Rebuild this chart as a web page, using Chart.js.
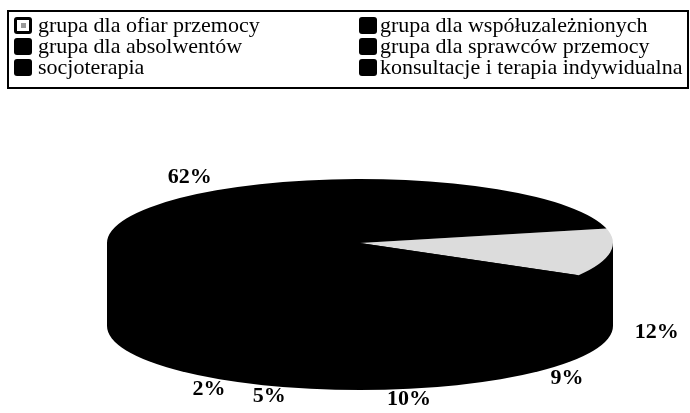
<!DOCTYPE html>
<html>
<head>
<meta charset="utf-8">
<script src="https://cdn.jsdelivr.net/npm/chart.js@4/dist/chart.umd.min.js"></script>
<style>
  html, body { margin: 0; padding: 0; background: #fff; }
  #wrap { width: 690px; height: 413px; }
</style>
</head>
<body>
<div id="wrap"><canvas id="myChart" width="690" height="413"></canvas></div>
<script>
const categories = [
  "grupa dla ofiar przemocy",
  "grupa dla współuzależnionych",
  "grupa dla absolwentów",
  "grupa dla sprawców przemocy",
  "socjoterapia",
  "konsultacje i terapia indywidualna",
];
const shares = [12, 9, 10, 5, 2, 62];
const sliceColors = ["#dcdcdc", "#000", "#000", "#000", "#000", "#000"];

// flattened "3D" look of the pie
const pie = { cx: 360, cy: 243, a: 253, b: 64, depth: 83 };
const labelRing = { rx: 300, ry: 80, drop: 77 };

const flatPie = {
  id: "flatPie",
  beforeDatasetsDraw(chart) {
    const ctx = chart.ctx;
    const arc = chart.getDatasetMeta(0).data[0];
    ctx.save();
    // side wall
    ctx.fillStyle = "#000";
    ctx.beginPath();
    ctx.ellipse(pie.cx, pie.cy + pie.depth, pie.a, pie.b, 0, 0, Math.PI * 2);
    ctx.fill();
    ctx.fillRect(pie.cx - pie.a, pie.cy, pie.a * 2, pie.depth);
    // squash the real pie into the top face
    ctx.translate(pie.cx, pie.cy);
    ctx.scale(pie.a / arc.outerRadius, pie.b / arc.outerRadius);
    ctx.translate(-arc.x, -arc.y);
  },
  afterDatasetsDraw(chart) {
    chart.ctx.restore();
  },
  afterDraw(chart) {
    const ctx = chart.ctx;
    const ds = chart.data.datasets[0];
    ctx.save();

    // percent labels
    ctx.fillStyle = "#000";
    ctx.font = "bold 22px 'Liberation Serif', 'Times New Roman', serif";
    ctx.textAlign = "center";
    ctx.textBaseline = "middle";
    chart.getDatasetMeta(0).data.forEach((arc, i) => {
      const mid = (arc.startAngle + arc.endAngle) / 2;
      const s = Math.sin(mid);
      const x = pie.cx + labelRing.rx * Math.cos(mid);
      const y = pie.cy + labelRing.ry * s + (s > 0 ? labelRing.drop : 0);
      ctx.fillText(ds.data[i] + "%", x, y);
    });

    // legend box
    ctx.strokeStyle = "#000";
    ctx.lineWidth = 2;
    ctx.strokeRect(8, 11, 680, 77);
    ctx.font = "22px 'Liberation Serif', 'Times New Roman', serif";
    ctx.textAlign = "left";
    chart.data.labels.forEach((lab, i) => {
      const col = i % 2, row = Math.floor(i / 2);
      const mx = col ? 359 : 14;
      const tx = col ? 380 : 38;
      const y = 25 + row * 21;
      ctx.fillStyle = "#000";
      ctx.beginPath();
      ctx.roundRect(mx, y - 8, 18, 17, 3);
      ctx.fill();
      if (ds.backgroundColor[i] !== "#000") {
        ctx.fillStyle = "#fff";
        ctx.fillRect(mx + 3, y - 5, 12, 11);
        ctx.fillStyle = "#999";
        ctx.fillRect(mx + 7, y - 2, 5, 5);
      }
      ctx.fillStyle = "#000";
      ctx.fillText(lab, tx, y + 1);
    });
    ctx.restore();
  },
};

new Chart(document.getElementById("myChart"), {
  type: "pie",
  data: {
    labels: categories,
    datasets: [
      {
        data: shares,
        backgroundColor: sliceColors,
        borderWidth: 0,
      },
    ],
  },
  options: {
    responsive: false,
    animation: false,
    rotation: 77,
    plugins: {
      legend: { display: false },
      tooltip: { enabled: false },
    },
  },
  plugins: [flatPie],
});
</script>
</body>
</html>
